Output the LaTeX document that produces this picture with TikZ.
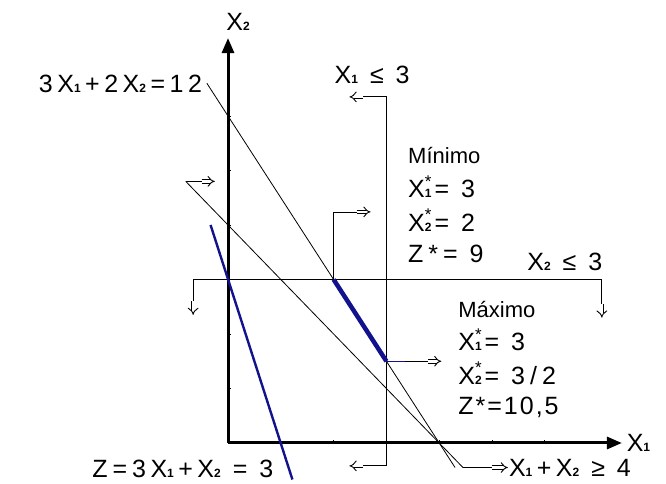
\documentclass[tikz,border=0pt]{standalone}
\usepackage{fontspec}
\setmainfont{Liberation Sans}
\newfontfamily\eqfont{Liberation Sans}[LetterSpace=20]
\newfontfamily\tightfont{Liberation Sans}[LetterSpace=8]
\usetikzlibrary{arrows.meta}
\definecolor{zblue}{RGB}{18,18,140}
\newcommand{\lo}[1]{{\fontsize{12}{12}\selectfont\bfseries #1}}
\newcommand{\gp}{\hspace{4.5pt}}
\newcommand{\xst}[1]{X\rlap{\raisebox{0.42em}{\fontsize{17}{17}\selectfont *}}\lo{#1}\hspace{3pt}}
\tikzset{
  axisln/.style={draw=black, line width=3pt, -{Triangle[length=15pt,width=12pt]}},
  bound/.style={line width=0.8pt},
  push/.style={double=white, double distance=2.8pt, line width=0.9pt, -{Implies[length=5pt,width=12pt]}},
  zline/.style={zblue, line width=2.4pt},
  optseg/.style={zblue, line width=4.5pt},
  word/.style={font=\rmfamily\fontsize{22}{25}\selectfont}
}

\begin{document}
\begin{tikzpicture}[x=52.8pt, y=54.5pt, font=\eqfont\fontsize{25}{28}\selectfont, inner sep=1pt]
  \useasboundingbox (-4.318,-0.752) rectangle (8.295,8.128);
  % axes
  \coordinate (O) at (0,0);
  \coordinate (xend) at (7.46,0);
  \coordinate (yend) at (0,7.43);
  \draw[axisln] (O) -- (xend);
  \draw[axisln] (O) -- (yend);
  \foreach \k in {1,...,6} {
    \draw[bound] (\k,0) -- (\k,0.06);
    \draw[bound] (0,\k) -- (0.06,\k);
  }
  \node[anchor=west] (x1lbl) at (7.53,0) {X\lo{1}};
  \node (x2lbl) at (0.19,7.72) {X\lo{2}};
  % 3X1+2X2=12
  \node[anchor=east] (c1lbl) at (-0.47,6.59) {3\gp X\lo{1}\gp+\gp 2\gp X\lo{2}\gp=\gp 1\gp 2};
  \coordinate (c1a) at (-0.4,6.6);
  \coordinate (c1b) at (4.3,-0.45);
  \draw[bound] (c1a) -- (c1b);
  % X1+X2>=4
  \coordinate (c2a) at (-0.8,4.8);
  \coordinate (c2b) at (4.45,-0.45);
  \node[anchor=west] (c2lbl) at (5.3,-0.45) {X\lo{1}\gp+\gp X\lo{2} ≥ 4};
  \draw[bound] (c2a) -- ++(0.3,0) coordinate (c2t);
  \draw[push] (c2t) -- ++(0.25,0);
  \draw[bound] (c2a) -- (c2b) -- ++(0.55,0) coordinate (c2u);
  \draw[push] (c2u) -- (c2lbl.west);
  % X1<=3
  \node (c3lbl) at (2.73,6.75) {X\lo{1} ≤ 3};
  \coordinate (c3a) at (3,6.35);
  \coordinate (c3b) at (3,-0.42);
  \draw[bound] (c3b) -- (c3a) -- ++(-0.45,0) coordinate (c3t);
  \draw[push] (c3t) -- ++(-0.25,0);
  \draw[bound] (c3b) -- ++(-0.45,0) coordinate (c3u);
  \draw[push] (c3u) -- ++(-0.25,0);
  % X2<=3
  \node (c4lbl) at (6.38,3.32) {X\lo{2} ≤ 3};
  \coordinate (c4a) at (-0.66,3);
  \coordinate (c4b) at (7.08,3);
  \draw[bound] (c4a) -- (c4b);
  \draw[bound] (c4a) -- ++(0,-0.4) coordinate (c4s);
  \draw[push] (c4s) -- ++(0,-0.25);
  \draw[bound] (c4b) -- ++(0,-0.45) coordinate (c4t);
  \draw[push] (c4t) -- ++(0,-0.25);
  % objective Z=3
  \coordinate (za) at (-0.33,4);
  \coordinate (zb) at (1.22,-0.67);
  \draw[zline] (za) -- (zb);
  \node[anchor=east] (zlbl) at (0.88,-0.48) {Z=3\gp X\lo{1}\gp+\gp X\lo{2} = 3};
  % optimal segment
  \coordinate (pmin) at (2,3);
  \coordinate (pmax) at (3,1.5);
  \draw[optseg] (pmin) -- (pmax);
  \draw[bound] (pmin) -- ++(0,1.24) -- ++(0.45,0) coordinate (mint);
  \draw[push] (mint) -- ++(0.25,0);
  \draw[zblue, line width=1pt] (pmax) -- ++(0.35,0) coordinate (maxs);
  \draw[bound] (maxs) -- ++(0.44,0) coordinate (maxt);
  \draw[push] (maxt) -- ++(0.25,0);
  % minimum
  \node[anchor=west, word] (minlbl) at (3.39,5.28) {Mínimo};
  \node[anchor=west] (minx1) at (3.39,4.70) {\xst{1}= 3};
  \node[anchor=west] (minx2) at (3.39,4.09) {\xst{2}= 2};
  \node[anchor=west] (minz) at (3.39,3.47) {Z*= 9};
  % maximum
  \node[anchor=west, word] (maxlbl) at (4.34,2.44) {Máximo};
  \node[anchor=west] (maxx1) at (4.34,1.89) {\xst{1}= 3};
  \node[anchor=west] (maxx2) at (4.34,1.28) {\xst{2}= 3/2};
  \node[anchor=west, font=\tightfont\fontsize{25}{28}\selectfont] (maxz) at (4.34,0.66) {Z*=10,5};
\end{tikzpicture}
\end{document}
